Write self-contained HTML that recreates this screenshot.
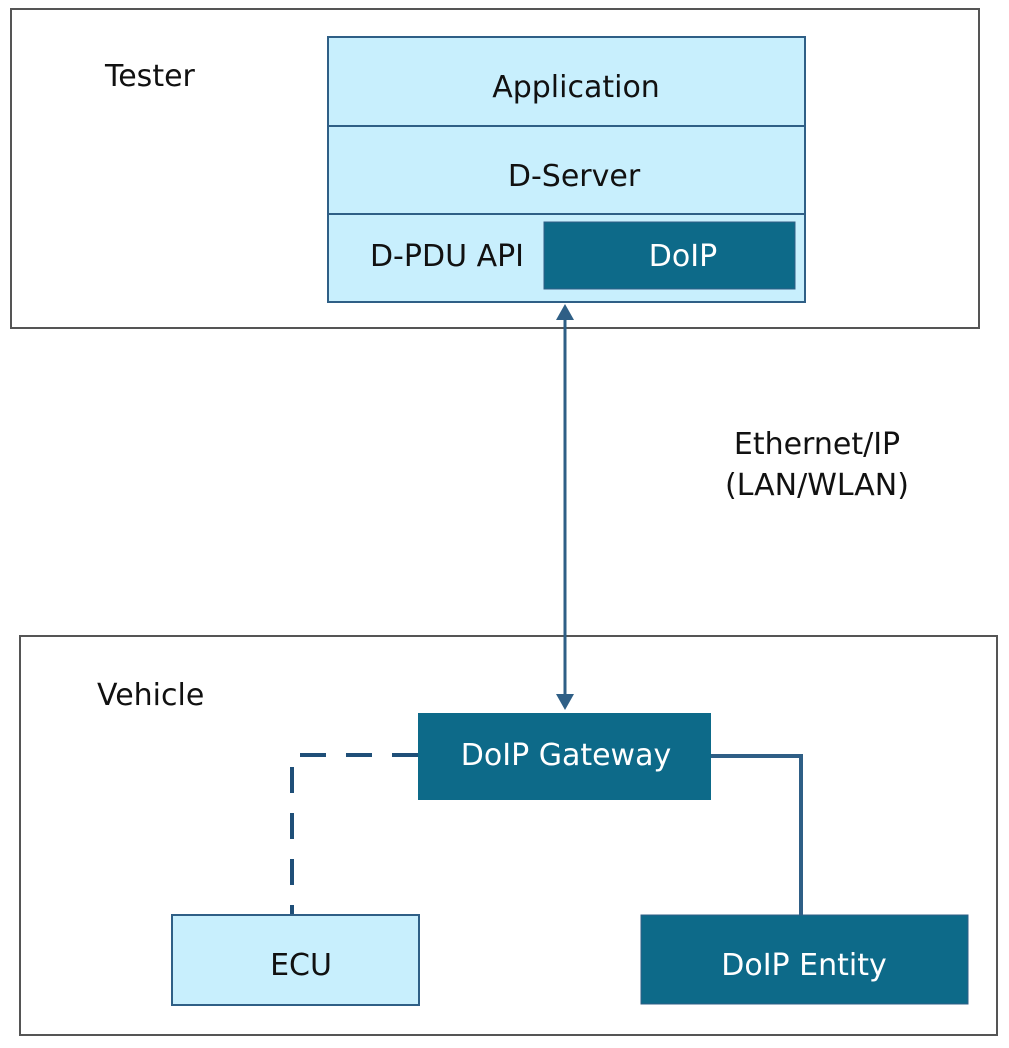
<!DOCTYPE html>
<html><head><meta charset="utf-8"><style>
html,body{margin:0;padding:0;background:#fff;}
svg{display:block;}
text{font-family:"DejaVu Sans","Liberation Sans",sans-serif;font-size:30px;}
</style></head><body>
<svg width="1009" height="1048" viewBox="0 0 1009 1048" xmlns="http://www.w3.org/2000/svg">
<rect x="11" y="9" width="968" height="319" fill="#fff" stroke="#555" stroke-width="2"/>
<rect x="20" y="636" width="977" height="399" fill="#fff" stroke="#555" stroke-width="2"/>
<text x="105" y="86" fill="#111">Tester</text>
<text x="97" y="705" fill="#111">Vehicle</text>
<rect x="328" y="37" width="477" height="265" fill="#c8effd" stroke="#2f5f86" stroke-width="2"/>
<line x1="328" y1="126" x2="805" y2="126" stroke="#2f5f86" stroke-width="2"/>
<line x1="328" y1="214" x2="805" y2="214" stroke="#2f5f86" stroke-width="2"/>
<text x="576" y="97" text-anchor="middle" fill="#111">Application</text>
<text x="574" y="186" text-anchor="middle" fill="#111">D-Server</text>
<text x="447" y="266" text-anchor="middle" fill="#111">D-PDU API</text>
<rect x="544" y="222" width="251" height="67" fill="#0d6a89" stroke="#2f5f86" stroke-width="1"/>
<text x="683" y="266" text-anchor="middle" fill="#fff">DoIP</text>
<line x1="565" y1="318" x2="565" y2="696" stroke="#2f5f86" stroke-width="3"/>
<polygon points="565,304 556,320 574,320" fill="#2f5f86"/>
<polygon points="565,710 556,694 574,694" fill="#2f5f86"/>
<text x="817" y="454" text-anchor="middle" fill="#111">Ethernet/IP</text>
<text x="817" y="495" text-anchor="middle" fill="#111">(LAN/WLAN)</text>
<polyline points="418,755 292,755 292,915" fill="none" stroke="#1f4f78" stroke-width="4" stroke-dasharray="26,20"/>
<polyline points="711,756 801,756 801,915" fill="none" stroke="#2f5f86" stroke-width="4"/>
<rect x="418" y="713" width="293" height="87" fill="#0d6a89"/>
<text x="566" y="765" text-anchor="middle" fill="#fff">DoIP Gateway</text>
<rect x="172" y="915" width="247" height="90" fill="#c8effd" stroke="#2f5f86" stroke-width="2"/>
<text x="301" y="975" text-anchor="middle" fill="#111">ECU</text>
<rect x="641" y="915" width="327" height="89" fill="#0d6a89" stroke="#2f5f86" stroke-width="1"/>
<text x="804" y="975" text-anchor="middle" fill="#fff">DoIP Entity</text>
</svg>
</body></html>
